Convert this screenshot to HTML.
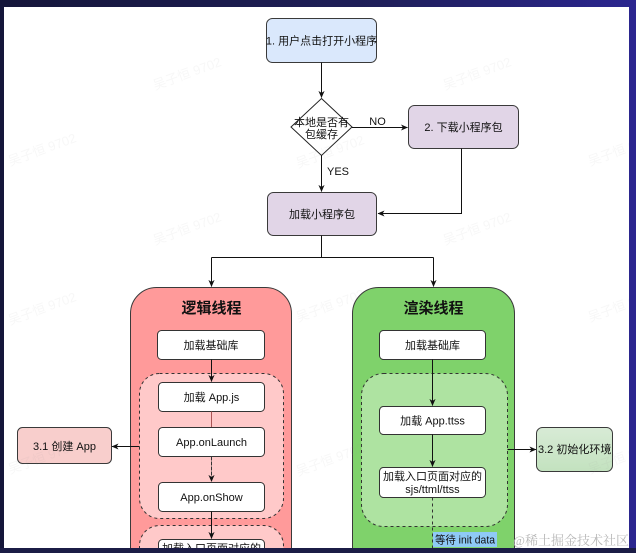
<!DOCTYPE html>
<html>
<head>
<meta charset="utf-8">
<style>
  html,body{margin:0;padding:0;width:636px;height:553px;overflow:hidden;background:#1a1a44;}
  svg{display:block;}
  text{font-family:"Liberation Sans","Noto Sans CJK SC",sans-serif;}
</style>
</head>
<body>
<svg width="636" height="553" viewBox="0 0 636 553" xmlns="http://www.w3.org/2000/svg">
  <defs>
    <linearGradient id="bg" x1="0" y1="0" x2="1" y2="0">
      <stop offset="0" stop-color="#15163a"/>
      <stop offset="0.6" stop-color="#1f1f5a"/>
      <stop offset="1" stop-color="#2b2690"/>
    </linearGradient>
    <linearGradient id="g32" x1="0" y1="0" x2="0" y2="1">
      <stop offset="0" stop-color="#d8ebd6"/>
      <stop offset="1" stop-color="#c3e2bf"/>
    </linearGradient>
    <clipPath id="panel"><rect x="4" y="7" width="625" height="541"/></clipPath>
    <marker id="ar" viewBox="0 0 8 8" refX="7.5" refY="4" markerWidth="7" markerHeight="7" markerUnits="userSpaceOnUse" orient="auto">
      <path d="M0,0.5 L8,4 L0,7.5 L2.2,4 Z" fill="#111"/>
    </marker>
  </defs>

  <rect x="0" y="0" width="636" height="553" fill="url(#bg)"/>
  <rect x="0" y="548" width="636" height="5" fill="#1b1c46"/>
  <rect x="4" y="7" width="625" height="541" fill="#ffffff"/>

  <g clip-path="url(#panel)">
    <!-- top flow -->
    <rect x="266.5" y="18.5" width="110" height="44" rx="6" fill="#dae8fc" stroke="#3a3a3a" stroke-width="1"/>
    <text x="321.5" y="44.5" font-size="11" text-anchor="middle" fill="#111">1. 用户点击打开小程序</text>

    <line x1="321.5" y1="62.5" x2="321.5" y2="97.5" stroke="#111" stroke-width="1" marker-end="url(#ar)"/>

    <polygon points="321.5,98.5 352,127 321.5,155.5 291,127" fill="#fff" stroke="#222" stroke-width="1"/>
    <text x="321.5" y="126" font-size="11" text-anchor="middle" fill="#111">本地是否有</text>
    <text x="321.5" y="138" font-size="11" text-anchor="middle" fill="#111">包缓存</text>

    <line x1="352" y1="127.5" x2="407.5" y2="127.5" stroke="#111" stroke-width="1" marker-end="url(#ar)"/>
    <text x="377.5" y="125" font-size="11" text-anchor="middle" fill="#111">NO</text>

    <rect x="408.5" y="105.5" width="110" height="43" rx="6" fill="#e1d5e7" stroke="#3a3a3a" stroke-width="1"/>
    <text x="463.5" y="131" font-size="11" text-anchor="middle" fill="#111">2. 下载小程序包</text>

    <line x1="321.5" y1="155.5" x2="321.5" y2="191.5" stroke="#111" stroke-width="1" marker-end="url(#ar)"/>
    <text x="338" y="175" font-size="11" text-anchor="middle" fill="#111">YES</text>

    <polyline points="461.5,148.5 461.5,213.5 378,213.5" fill="none" stroke="#111" stroke-width="1" marker-end="url(#ar)"/>

    <rect x="267.5" y="192.5" width="109" height="43" rx="6" fill="#e1d5e7" stroke="#3a3a3a" stroke-width="1"/>
    <text x="322" y="218" font-size="11" text-anchor="middle" fill="#111">加载小程序包</text>

    <line x1="321.5" y1="235.5" x2="321.5" y2="257.5" stroke="#111" stroke-width="1"/>
    <line x1="211.5" y1="257.5" x2="433.5" y2="257.5" stroke="#111" stroke-width="1"/>
    <line x1="211.5" y1="257.5" x2="211.5" y2="286.5" stroke="#111" stroke-width="1" marker-end="url(#ar)"/>
    <line x1="433.5" y1="257.5" x2="433.5" y2="286.5" stroke="#111" stroke-width="1" marker-end="url(#ar)"/>

    <!-- left container -->
    <path d="M130.5,549 V313.5 A26,26 0 0 1 156.5,287.5 H265.5 A26,26 0 0 1 291.5,313.5 V549 Z" fill="#ff9a9a" stroke="#3a3a3a" stroke-width="1"/>
    <text x="211.5" y="313" font-size="15" font-weight="bold" text-anchor="middle" fill="#111">逻辑线程</text>

    <rect x="157.5" y="330.5" width="107" height="29" rx="4" fill="#fff" stroke="#333" stroke-width="1"/>
    <text x="211" y="349" font-size="11" text-anchor="middle" fill="#111">加载基础库</text>

    <rect x="139.5" y="373.5" width="144" height="145" rx="20" fill="#ffc9c9" stroke="#333" stroke-width="1" stroke-dasharray="3,3"/>
    <line x1="211.5" y1="359.5" x2="211.5" y2="381.5" stroke="#111" stroke-width="1" marker-end="url(#ar)"/>

    <rect x="158.5" y="382.5" width="106" height="29" rx="4" fill="#fff" stroke="#333" stroke-width="1"/>
    <text x="211.5" y="401" font-size="11" text-anchor="middle" fill="#111">加载 App.js</text>

    <line x1="211.5" y1="411.5" x2="211.5" y2="427.5" stroke="#a55" stroke-width="1"/>

    <rect x="158.5" y="427.5" width="106" height="29" rx="4" fill="#fff" stroke="#333" stroke-width="1"/>
    <text x="211.5" y="446" font-size="11" text-anchor="middle" fill="#111">App.onLaunch</text>

    <line x1="211.5" y1="456.5" x2="211.5" y2="481.5" stroke="#333" stroke-width="1" stroke-dasharray="4,1" marker-end="url(#ar)"/>

    <rect x="158.5" y="482.5" width="106" height="29" rx="4" fill="#fff" stroke="#333" stroke-width="1"/>
    <text x="211.5" y="501" font-size="11" text-anchor="middle" fill="#111">App.onShow</text>

    <path d="M139.5,549 V545.5 A20,20 0 0 1 159.5,525.5 H263.5 A20,20 0 0 1 283.5,545.5 V549 Z" fill="#ffc9c9" stroke="#333" stroke-width="1" stroke-dasharray="3,3"/>
    <line x1="211.5" y1="511.5" x2="211.5" y2="538.5" stroke="#111" stroke-width="1" marker-end="url(#ar)"/>
    <path d="M158.5,549 V543.5 A4,4 0 0 1 162.5,539.5 H260.5 A4,4 0 0 1 264.5,543.5 V549 Z" fill="#fff" stroke="#333" stroke-width="1"/>
    <text x="211.5" y="552" font-size="11" text-anchor="middle" fill="#111">加载入口页面对应的</text>

    <!-- 3.1 -->
    <rect x="17.5" y="427.5" width="94" height="36" rx="5" fill="#f8cecc" stroke="#3a3a3a" stroke-width="1"/>
    <text x="64.5" y="450" font-size="11" text-anchor="middle" fill="#111">3.1 创建 App</text>
    <line x1="139.5" y1="446.5" x2="112" y2="446.5" stroke="#111" stroke-width="1" marker-end="url(#ar)"/>

    <!-- right container -->
    <path d="M352.5,549 V313.5 A26,26 0 0 1 378.5,287.5 H488.5 A26,26 0 0 1 514.5,313.5 V549 Z" fill="#7fd26b" stroke="#3a3a3a" stroke-width="1"/>
    <text x="433.5" y="313" font-size="15" font-weight="bold" text-anchor="middle" fill="#111">渲染线程</text>

    <rect x="379.5" y="330.5" width="106" height="29" rx="4" fill="#fff" stroke="#333" stroke-width="1"/>
    <text x="432.5" y="349" font-size="11" text-anchor="middle" fill="#111">加载基础库</text>

    <rect x="361.5" y="373.5" width="146" height="153" rx="22" fill="#aee3a1" stroke="#333" stroke-width="1" stroke-dasharray="3,3"/>
    <line x1="432.5" y1="359.5" x2="432.5" y2="405.5" stroke="#111" stroke-width="1" marker-end="url(#ar)"/>

    <rect x="379.5" y="406.5" width="106" height="28" rx="4" fill="#fff" stroke="#333" stroke-width="1"/>
    <text x="432.5" y="424.5" font-size="11" text-anchor="middle" fill="#111">加载 App.ttss</text>

    <line x1="432.5" y1="434.5" x2="432.5" y2="466.5" stroke="#111" stroke-width="1" marker-end="url(#ar)"/>

    <rect x="379.5" y="467.5" width="106" height="30" rx="4" fill="#fff" stroke="#333" stroke-width="1"/>
    <text x="432.5" y="480" font-size="11" text-anchor="middle" fill="#111">加载入口页面对应的</text>
    <text x="432.5" y="493" font-size="11" text-anchor="middle" fill="#111">sjs/ttml/ttss</text>

    <line x1="432.5" y1="497.5" x2="432.5" y2="548" stroke="#333" stroke-width="1" stroke-dasharray="3,3"/>

    <rect x="433" y="532" width="64" height="15" fill="#8fcaf6"/>
    <text x="435" y="543.5" font-size="11" fill="#111" textLength="60" lengthAdjust="spacingAndGlyphs">等待 init data</text>

    <!-- 3.2 -->
    <line x1="507.5" y1="449.5" x2="536" y2="449.5" stroke="#111" stroke-width="1" marker-end="url(#ar)"/>
    <rect x="536.5" y="427.5" width="76" height="44" rx="6" fill="url(#g32)" stroke="#3a3a3a" stroke-width="1"/>
    <text x="538" y="453" font-size="11" fill="#111">3.2 初始化环境</text>

    <!-- watermarks -->
    <g font-size="13" fill="#9a9a9a" fill-opacity="0.08">
      <text transform="translate(155,90) rotate(-20)">吴子恒 9702</text>
      <text transform="translate(445,90) rotate(-20)">吴子恒 9702</text>
      <text transform="translate(10,166) rotate(-20)">吴子恒 9702</text>
      <text transform="translate(298,168) rotate(-20)">吴子恒 9702</text>
      <text transform="translate(590,166) rotate(-20)">吴子恒 9702</text>
      <text transform="translate(155,245) rotate(-20)">吴子恒 9702</text>
      <text transform="translate(445,245) rotate(-20)">吴子恒 9702</text>
      <text transform="translate(10,325) rotate(-20)">吴子恒 9702</text>
      <text transform="translate(298,322) rotate(-20)">吴子恒 9702</text>
      <text transform="translate(590,322) rotate(-20)">吴子恒 9702</text>
      <text transform="translate(10,474) rotate(-20)">吴子恒 9702</text>
      <text transform="translate(298,476) rotate(-20)">吴子恒 9702</text>
      <text transform="translate(590,474) rotate(-20)">吴子恒 9702</text>
    </g>
    <text x="513" y="545" font-size="13" fill="#b8b8b8" style="font-family:'Liberation Serif','Noto Serif CJK SC',serif">@稀土掘金技术社区</text>
  </g>
</svg>
</body>
</html>
